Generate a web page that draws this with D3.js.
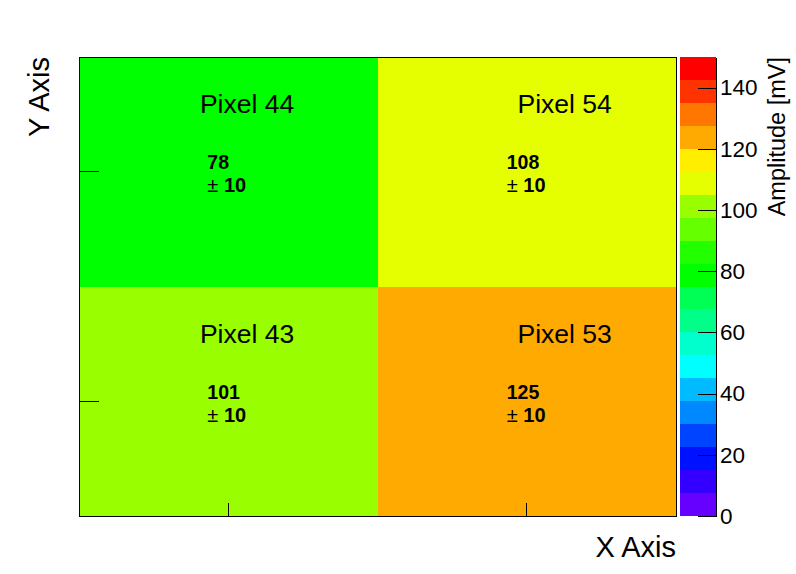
<!DOCTYPE html>
<html>
<head>
<meta charset="utf-8">
<script src="https://cdn.jsdelivr.net/npm/d3@7"></script>
<style>
  html, body { margin: 0; padding: 0; background: #fff; }
  svg { display: block; font-family: "Liberation Sans", Arial, Helvetica, sans-serif; }
</style>
</head>
<body>
<svg id="chart" width="796" height="574"></svg>
<script>
// ---- data ----
const xCategories = ["col0", "col1"];
const yCategories = ["row0", "row1"];
const pixelNames = ["Pixel 43", "Pixel 44", "Pixel 53", "Pixel 54"];
const pixelCol   = [0, 0, 1, 1];
const pixelRow   = [0, 1, 0, 1];
const amplitudes = [101, 78, 125, 108];
const errors     = [10, 10, 10, 10];
const zTicks = [0, 20, 40, 60, 80, 100, 120, 140];
const paletteColors = [
  "#6600ff", "#3300ff", "#0011ff", "#0044ff", "#0088ff",
  "#00bbff", "#00ffff", "#00ffcc", "#00ff88", "#00ff55",
  "#00ff00", "#22ff00", "#66ff00", "#99ff00", "#e6ff00",
  "#ffee00", "#ffaa00", "#ff7700", "#ff3300", "#ff0000"
];
const zDomain = [0, 150];
const xTitle = "X Axis", yTitle = "Y Axis", zTitle = "Amplitude [mV]";

// ---- layout ----
const svg = d3.select("#chart");
const L = 79, R = 676, T = 57, B = 516;
const x = d3.scaleBand().domain(xCategories).range([L, R]);
const y = d3.scaleBand().domain(yCategories).range([B, T]);
const z = d3.scaleQuantize().domain(zDomain).range(paletteColors);

const cells = pixelNames.map((n, i) => ({
  name: n, col: xCategories[pixelCol[i]], row: yCategories[pixelRow[i]],
  v: amplitudes[i], e: errors[i], ci: pixelCol[i]
}));

svg.append("g").selectAll("rect").data(cells).join("rect")
  .attr("x", d => x(d.col)).attr("y", d => y(d.row))
  .attr("width", x.bandwidth()).attr("height", y.bandwidth())
  .attr("fill", d => z(d.v)).attr("shape-rendering", "crispEdges");

// text offsets (fraction of cell width) per column
const nameCenterFrac = [0.563, 0.627];
const valueStartFrac = [0.43, 0.433];

const labels = svg.append("g");
cells.forEach(d => {
  const cx = x(d.col), cy = y(d.row), w = x.bandwidth();
  labels.append("text")
    .attr("x", cx + w * nameCenterFrac[d.ci]).attr("y", cy + 56)
    .attr("text-anchor", "middle").attr("font-size", 26.5).text(d.name);
  labels.append("text")
    .attr("x", cx + w * valueStartFrac[d.ci]).attr("y", cy + 112)
    .attr("font-size", 19.5).attr("font-weight", "bold").text(d.v);
  const t = labels.append("text")
    .attr("x", cx + w * valueStartFrac[d.ci]).attr("y", cy + 135)
    .attr("font-size", 20);
  t.append("tspan").attr("font-weight", "normal").text("\u00b1");
  t.append("tspan").attr("font-weight", "bold").text(" " + d.e);
});

// axes (ticks inside, no labels)
const xAxis = svg.append("g").attr("transform", `translate(0,${B})`)
  .call(d3.axisBottom(x).tickSize(-13).tickFormat(""));
xAxis.select(".domain").remove();
xAxis.selectAll("line").attr("stroke", "#000").attr("shape-rendering", "crispEdges");
const yAxis = svg.append("g").attr("transform", `translate(${L},0)`)
  .call(d3.axisLeft(y).tickSize(-20).tickFormat(""));
yAxis.select(".domain").remove();
yAxis.selectAll("line").attr("stroke", "#000").attr("shape-rendering", "crispEdges");

// frame
svg.append("rect").attr("x", L).attr("y", T).attr("width", R - L).attr("height", B - T)
  .attr("fill", "none").attr("stroke", "#000").attr("stroke-width", 1)
  .attr("shape-rendering", "crispEdges");

// axis titles
svg.append("text").attr("x", R).attr("y", 557).attr("text-anchor", "end")
  .attr("font-size", 29).text(xTitle);
svg.append("text").attr("transform", `translate(49,${T}) rotate(-90)`)
  .attr("text-anchor", "end").attr("font-size", 29).text(yTitle);

// color bar
const cbL = 680, cbR = 716;
const zy = d3.scaleLinear().domain(zDomain).range([B, T]);
const bins = paletteColors.map((c, i) => {
  const step = (zDomain[1] - zDomain[0]) / paletteColors.length;
  return { lo: zDomain[0] + i * step, hi: zDomain[0] + (i + 1) * step, c };
});
svg.append("g").selectAll("rect").data(bins).join("rect")
  .attr("x", cbL).attr("width", cbR - cbL)
  .attr("y", d => zy(d.hi)).attr("height", d => zy(d.lo) - zy(d.hi))
  .attr("fill", d => d.c).attr("shape-rendering", "crispEdges");
const zAxis = svg.append("g").attr("transform", `translate(${cbR},0)`)
  .call(d3.axisRight(zy).tickValues(zTicks).tickSize(-18).tickPadding(4).tickSizeOuter(0));
zAxis.select(".domain").attr("stroke", "#000").attr("shape-rendering", "crispEdges");
zAxis.selectAll("line").attr("stroke", "#000").attr("shape-rendering", "crispEdges");
zAxis.selectAll("text").attr("font-size", 22.5).attr("fill", "#000")
  .attr("font-family", "Liberation Sans, Arial, sans-serif");
svg.append("text").attr("transform", `translate(785,${T}) rotate(-90)`)
  .attr("text-anchor", "end").attr("font-size", 23.5).text(zTitle);
</script>
</body>
</html>
